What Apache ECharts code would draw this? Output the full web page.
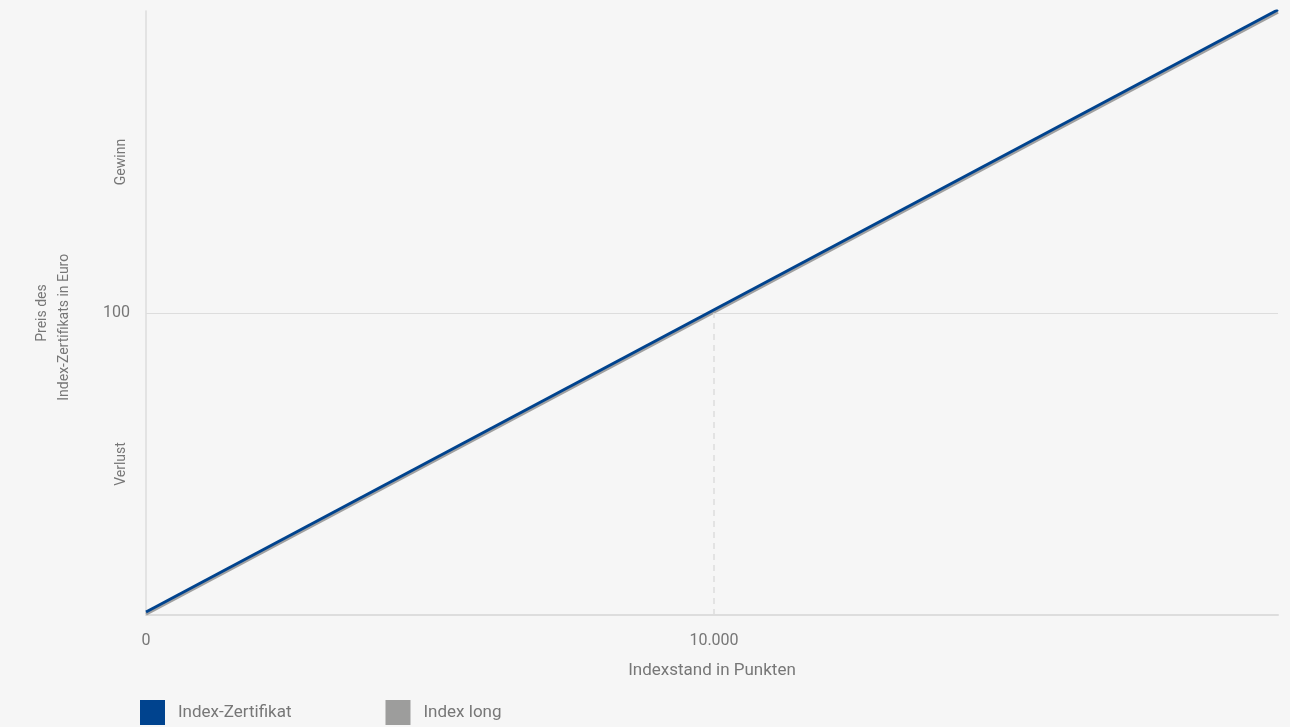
<!DOCTYPE html>
<html>
<head>
<meta charset="utf-8">
<script src="https://cdn.jsdelivr.net/npm/echarts@6/dist/echarts.min.js"></script>
<style>html,body{margin:0;padding:0;background:#f6f6f6;}#c{width:1290px;height:727px;}</style>
</head>
<body>
<div id="c"></div>
<script>
// Data
const seriesNames = ['Index-Zertifikat', 'Index long'];
const xValues = [0, 19930];
const zertifikatValues = [1, 200.4];
const indexLongValues = [0.3, 199.6];
const xTickLabels = {0: '0', 10000: '10.000'};
const yTickLabels = {100: '100'};
const yZoneLabels = {50: 'Verlust', 150: 'Gewinn'};
const refX = 10000;
const refY = 100;

const textColor = '#777';
const fontFamily = 'Roboto, "Noto Sans", sans-serif';
const chart = echarts.init(document.getElementById('c'));
const pair = (vals) => xValues.map((x, i) => [x, vals[i]]);

chart.setOption({
  backgroundColor: '#f6f6f6',
  animation: false,
  textStyle: {fontFamily: fontFamily},
  grid: {left: 146, right: 12, top: 11, bottom: 112},
  legend: {
    left: 140, top: 700, padding: 0, itemWidth: 25, itemHeight: 25, itemGap: 94,
    icon: 'rect',
    textStyle: {color: textColor, fontSize: 17, fontFamily: fontFamily, padding: [0, 0, 0, 8]},
    data: [seriesNames[0], seriesNames[1]]
  },
  xAxis: {
    type: 'value', min: 0, max: xValues[xValues.length - 1], interval: 10000,
    name: 'Indexstand in Punkten', nameLocation: 'middle', nameGap: 47,
    nameTextStyle: {color: textColor, fontSize: 17},
    axisLine: {show: true, lineStyle: {color: '#dddddd', width: 2}},
    axisTick: {show: false},
    splitLine: {show: false},
    axisLabel: {color: textColor, fontSize: 16, margin: 18, showMaxLabel: false,
      formatter: v => xTickLabels[v] !== undefined ? xTickLabels[v] : ''}
  },
  yAxis: [{
    type: 'value', min: 0, max: 200, interval: 50,
    name: 'Preis des\nIndex-Zertifikats in Euro\u2002\u2002\u2002\u2002', nameLocation: 'middle', nameGap: 71,
    nameTextStyle: {color: textColor, fontSize: 14, lineHeight: 22},
    axisLine: {show: true, lineStyle: {color: '#dddddd', width: 1.5}},
    axisTick: {show: false},
    splitLine: {show: true, lineStyle: {color: ['transparent', 'transparent', '#dddddd', 'transparent', 'transparent'], width: 1}},
    axisLabel: {color: textColor, fontSize: 16, margin: 16,
      formatter: v => yTickLabels[v] !== undefined ? yTickLabels[v] : ''}
  }, {
    type: 'value', min: 0, max: 200, interval: 50, position: 'left',
    axisLine: {show: false}, axisTick: {show: false}, splitLine: {show: false},
    axisLabel: {color: textColor, fontSize: 14, margin: 18, rotate: 90,
      formatter: v => yZoneLabels[v] !== undefined ? yZoneLabels[v] : ''}
  }],
  series: [{
    type: 'line', name: '_ref', data: [], silent: true, z: 1,
    markLine: {
      silent: true, symbol: ['none', 'none'], symbolSize: 0,
      label: {show: false}, emphasis: {disabled: true},
      data: [
        [{coord: [refX, 0], lineStyle: {color: '#dddddd', width: 1.5, type: [6, 5]}},
         {coord: [refX, refY]}]
      ]
    }
  }, {
    type: 'line', name: seriesNames[1], data: pair(indexLongValues),
    showSymbol: false, symbol: 'none', z: 2,
    lineStyle: {color: '#a0a0a0', width: 3}, itemStyle: {color: '#9d9d9c'}
  }, {
    type: 'line', name: seriesNames[0], data: pair(zertifikatValues),
    showSymbol: false, symbol: 'none', z: 3,
    lineStyle: {color: '#00438e', width: 3}, itemStyle: {color: '#00438e'}
  }]
});
</script>
</body>
</html>
